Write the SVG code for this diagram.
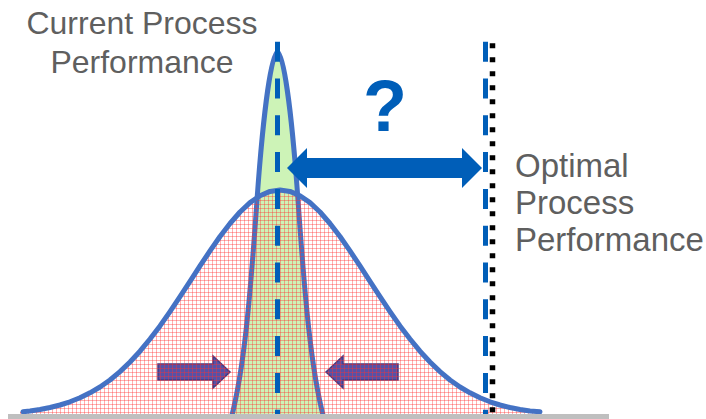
<svg xmlns="http://www.w3.org/2000/svg" width="706" height="419" viewBox="0 0 706 419">
  <defs>
    <!-- fine red grid used to shade the wide distribution -->
    <pattern id="redGrid" patternUnits="userSpaceOnUse" width="4" height="4">
      <rect x="0" y="0" width="4" height="1" fill="#ff3030" fill-opacity="0.38"/>
      <rect x="0" y="0" width="1" height="4" fill="#ff3030" fill-opacity="0.38"/>
    </pattern>
    <style>
      .label { font-family: "Liberation Sans", Arial, sans-serif; font-size: 32px; fill: #5f5f5f; }
      .label-r { font-family: "Liberation Sans", Arial, sans-serif; font-size: 33px; fill: #5f5f5f; }
      .curve { stroke: #4472c4; stroke-width: 5; stroke-linejoin: round; stroke-linecap: round; }
      .squeeze { fill: #5552a8; stroke: #443a82; stroke-width: 1.5; }
      .dash { fill: none; stroke: #005eb8; stroke-width: 5; stroke-dasharray: 20 16.8; }
    </style>
  </defs>

  <rect width="706" height="419" fill="#ffffff"/>

  <!-- narrow distribution: current process -->
  <g id="current-distribution">
    <path class="curve" fill="#cdf3b7"
          d="M 231,419 C 244,370 250,300 257,200 C 262,130 270,56 277.5,52 C 285,56 293,130 298,200 C 305,300 311,370 324,419 Z"/>
  </g>

  <!-- inward arrows squeezing the spread -->
  <g id="squeeze-left">
    <polygon class="squeeze" points="158,364 213,364 213,356 230,372 213,388 213,380 158,380"/>
  </g>
  <g id="squeeze-right">
    <polygon class="squeeze" points="398,364 343,364 343,356 326,372 343,388 343,380 398,380"/>
  </g>

  <!-- wide distribution: shaded area and outline -->
  <g id="wide-distribution">
    <polygon fill="url(#redGrid)" stroke="none"
             points="20,419 20,412.1 40,409.5 60,405 80,397.8 100,387 120,371.6 140,351.2 160,325.9 180,296.7 200,265.9 220,236.5 240,212 260,195.7 280,190 300,195.7 320,212 340,236.5 360,265.9 380,296.7 400,325.9 420,351.2 440,371.6 460,387 480,397.8 500,405 520,409.5 540,412.1 540,419"/>
    <polyline class="curve" fill="none"
              points="23,411.8 30,411 40,409.5 50,407.5 60,405 70,401.8 80,397.8 90,392.8 100,387 110,380 120,371.6 130,362 140,351.2 150,339 160,325.9 170,311.6 180,296.7 190,281.3 200,265.9 210,250.9 220,236.5 230,223.5 240,212 250,202.6 260,195.7 270,191.4 280,190 290,191.4 300,195.7 310,202.6 320,212 330,223.5 340,236.5 350,250.9 360,265.9 370,281.3 380,296.7 390,311.6 400,325.9 410,339 420,351.2 430,362 440,371.6 450,380 460,387 470,392.8 480,397.8 490,401.8 500,405 510,407.5 520,409.5 530,411 540,411.8"/>
  </g>

  <!-- reference lines and gap arrow -->
  <g id="connectors">
    <line id="current-mean" class="dash" x1="277.5" y1="41.7" x2="277.5" y2="419"/>
    <line id="optimal-mean" class="dash" x1="485.5" y1="41.7" x2="485.5" y2="414"/>
    <line id="optimal-limit" x1="492.5" y1="43.3" x2="492.5" y2="415" stroke="#000000" stroke-width="5.5" stroke-dasharray="5 9"/>
    <polygon id="gap-arrow" fill="#005eb8"
             points="287,168 307,148 307,158 462,158 462,148 482,168 462,188 462,178 307,178 307,188"/>
  </g>

  <g id="gap-question">
    <text x="385" y="131" text-anchor="middle" font-family="'Liberation Sans', Arial, sans-serif" font-size="72" font-weight="bold" fill="#005eb8">?</text>
  </g>

  <g id="current-label">
    <text class="label" text-anchor="middle" x="142" y="34">Current Process</text>
    <text class="label" text-anchor="middle" x="142" y="73">Performance</text>
  </g>

  <g id="optimal-label">
    <text class="label-r" x="515" y="177">Optimal</text>
    <text class="label-r" x="515" y="214">Process</text>
    <text class="label-r" x="515" y="251">Performance</text>
  </g>

  <!-- horizontal axis -->
  <rect id="axis" x="8" y="414" width="601" height="5" fill="#bfbfbf"/>
</svg>
